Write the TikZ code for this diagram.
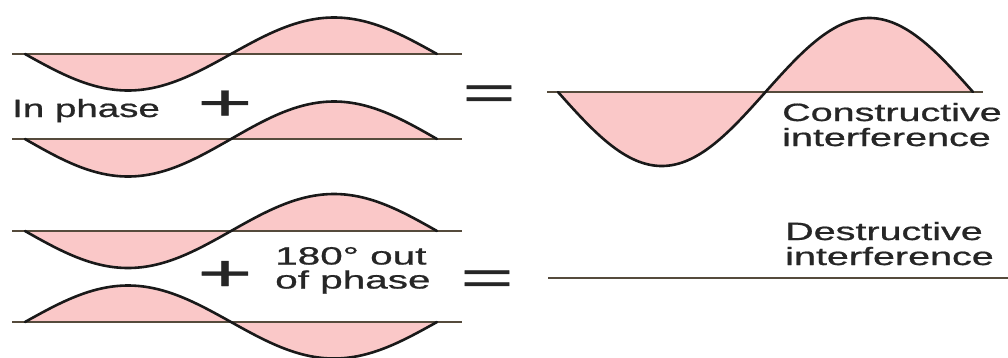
\documentclass[tikz,border=0pt]{standalone}
\usepackage{fontspec}
\setmainfont{Liberation Sans}
\newfontfamily\lblfont{Liberation Sans}[FakeBold=0.7]
\usepackage{graphicx}
\definecolor{wavefill}{RGB}{250,200,200}
\definecolor{axiscol}{RGB}{85,75,60}
\definecolor{txt}{RGB}{38,38,38}
\newcommand{\twoline}[3]{\vtop{\baselineskip=#1\lineskiplimit=-50pt\lineskip=0pt\hbox{#2}\hbox{#3}}}
\begin{document}
\begin{tikzpicture}[x=1pt,y=-1pt,
  axisline/.style={draw=axiscol,line width=1.6pt},
  waveline/.style={draw=black!90,line width=2.6pt,line join=round,line cap=round},
  lbl/.style={inner sep=0pt,anchor=base west,text=txt,font=\lblfont\fontsize{25}{25}\selectfont},
  sym/.style={inner sep=0pt,anchor=base,text=txt}]
\useasboundingbox (0,0) rectangle (1008,357);
% ---- In phase, first wave
\fill[wavefill] plot[domain=0:1,samples=91,smooth] ({25+412*\x},{54+36.5*sin(360*\x)}) -- cycle;
\draw[axisline] (12,54) -- (462,54);
\draw[waveline] plot[domain=0:1,samples=91,smooth] ({25+412*\x},{54+36.5*sin(360*\x)});
% ---- In phase, second wave
\fill[wavefill] plot[domain=0:1,samples=91,smooth] ({25+412*\x},{139+37.5*sin(360*\x)}) -- cycle;
\draw[axisline] (12,139) -- (462,139);
\draw[waveline] plot[domain=0:1,samples=91,smooth] ({25+412*\x},{139+37.5*sin(360*\x)});
% ---- constructive sum
\fill[wavefill] plot[domain=0:1,samples=91,smooth] ({558+415*\x},{92+74*sin(360*\x)}) -- cycle;
\draw[axisline] (547,92) -- (983,92);
\draw[waveline] plot[domain=0:1,samples=91,smooth] ({558+415*\x},{92+74*sin(360*\x)});
% ---- out of phase, first wave
\fill[wavefill] plot[domain=0:1,samples=91,smooth] ({25+412*\x},{231+37*sin(360*\x)}) -- cycle;
\draw[axisline] (12,231) -- (462,231);
\draw[waveline] plot[domain=0:1,samples=91,smooth] ({25+412*\x},{231+37*sin(360*\x)});
% ---- out of phase, second wave
\fill[wavefill] plot[domain=0:1,samples=91,smooth] ({25+412*\x},{322-36.5*sin(360*\x)}) -- cycle;
\draw[axisline] (12,322) -- (462,322);
\draw[waveline] plot[domain=0:1,samples=91,smooth] ({25+412*\x},{322-36.5*sin(360*\x)});
% ---- destructive sum
\draw[axisline,line width=2.6pt] (548,278) -- (1008,278);
% ---- symbols
\node[sym,font=\lblfont\fontsize{51}{51}\selectfont] (plusA) at (225,120) {\scalebox{1.85}[1]{+}};
\node[sym,font=\lblfont\fontsize{51}{51}\selectfont] (plusB) at (225,290.5) {\scalebox{1.85}[1]{+}};
\node[sym,font=\lblfont\fontsize{48}{48}\selectfont] (eqA) at (489,109) {\scalebox{1.9}[1]{=}};
\node[sym,font=\lblfont\fontsize{48}{48}\selectfont] (eqB) at (487,294) {\scalebox{1.9}[1]{=}};
% ---- labels
\node[lbl] (inphase) at (12,117) {\scalebox{1.54}[1]{In phase}};
\node[lbl] (constr) at (782,121) {\scalebox{1.58}[1]{\twoline{25pt}{Constructive}{interference}}};
\node[lbl] (outphase) at (275,264.5) {\scalebox{1.62}[1]{\twoline{24pt}{180° out}{of phase}}};
\node[lbl] (destr) at (785,240) {\scalebox{1.58}[1]{\twoline{25pt}{Destructive}{interference}}};
\end{tikzpicture}
\end{document}
